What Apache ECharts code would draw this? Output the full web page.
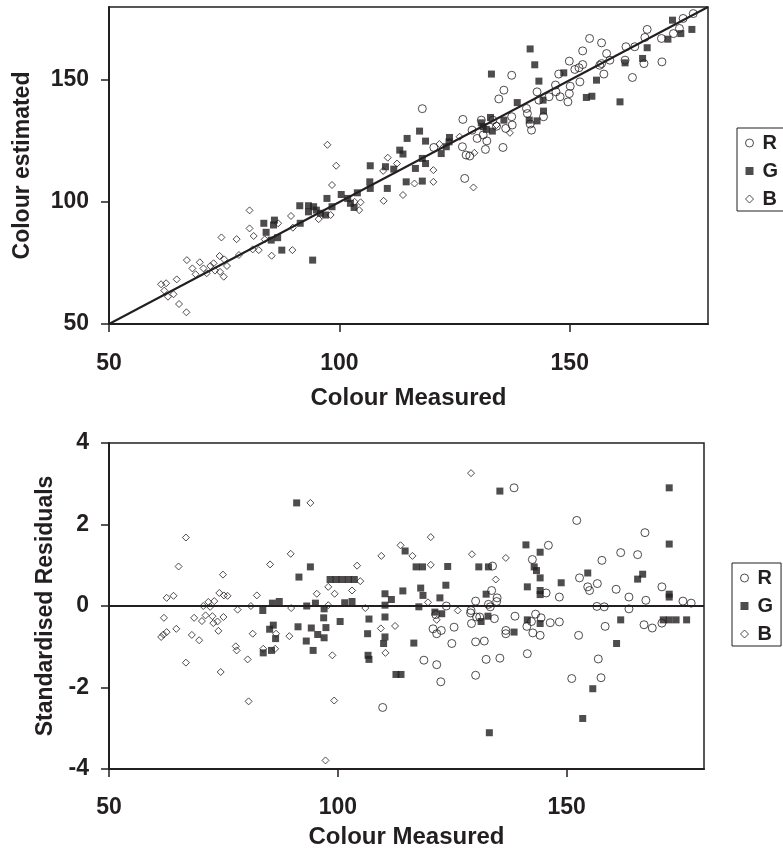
<!DOCTYPE html>
<html>
<head>
<meta charset="utf-8">
<script src="https://cdn.jsdelivr.net/npm/echarts@6/dist/echarts.min.js"></script>
<style>
  html, body { margin: 0; padding: 0; background: #fff; }
  #container { width: 783px; height: 850px; }
</style>
</head>
<body>
<div id="container"></div>
<script>
// top panel: colour estimated vs measured
var topRX = [118.0, 126.8, 127.2, 126.7, 127.5, 128.3, 120.5, 128.8, 129.9, 130.8, 131.2, 131.7, 132.0, 133.3, 134.1, 135.5, 136.1, 137.5, 137.4, 137.4, 134.6, 135.7, 140.6, 140.8, 141.4, 141.7, 142.9, 143.3, 144.3, 145.5, 146.9, 147.0, 147.9, 147.6, 149.9, 149.6, 149.9, 150.1, 151.1, 152.0, 152.8, 152.2, 152.8, 154.3, 156.9, 156.5, 156.9, 158.0, 157.4, 158.7, 162.2, 162.0, 163.6, 164.1, 166.3, 166.8, 166.1, 170.0, 169.9, 172.5, 173.8, 174.6, 176.8];
var topRY = [138.3, 133.9, 109.7, 122.7, 119.3, 118.9, 122.4, 129.5, 126.1, 133.6, 127.5, 121.6, 125.1, 133.6, 131.1, 122.4, 130.2, 131.6, 135.0, 152.0, 142.3, 145.9, 138.4, 136.3, 132.0, 129.5, 145.2, 141.8, 135.0, 143.2, 148.0, 145.2, 143.2, 152.5, 157.8, 141.1, 144.5, 147.5, 154.4, 155.1, 156.4, 149.3, 162.0, 167.1, 165.3, 156.1, 156.8, 160.9, 152.5, 158.2, 163.7, 158.2, 151.1, 163.7, 167.5, 170.8, 156.8, 157.5, 167.1, 169.1, 171.2, 175.3, 177.3];

var topGX = [83.6, 85.9, 85.7, 84.1, 85.2, 86.6, 87.5, 91.4, 91.5, 93.3, 94.4, 93.3, 95.0, 95.9, 97.0, 97.3, 98.4, 94.2, 100.4, 101.8, 102.4, 103.2, 103.9, 106.7, 106.6, 106.7, 110.0, 110.4, 111.8, 113.1, 113.8, 114.7, 114.5, 117.4, 118.7, 116.5, 118.0, 118.0, 118.7, 122.1, 123.2, 123.9, 123.8, 130.8, 131.2, 131.9, 132.8, 133.2, 135.7, 133.0, 138.6, 141.4, 142.4, 143.3, 144.2, 144.3, 141.2, 142.9, 148.7, 153.6, 154.8, 155.8, 160.9, 162.0, 165.8, 166.8, 171.3, 172.3, 174.1, 176.5];
var topGY = [91.3, 92.6, 90.6, 87.6, 84.4, 85.4, 80.3, 98.5, 91.3, 98.5, 98.1, 96.0, 96.7, 95.4, 94.7, 101.5, 98.1, 76.2, 103.1, 101.5, 99.5, 97.8, 103.8, 114.9, 108.3, 105.6, 114.5, 105.6, 113.5, 121.3, 119.7, 126.1, 108.3, 129.1, 125.0, 113.8, 108.6, 117.9, 115.8, 119.9, 122.7, 126.5, 124.7, 132.5, 130.9, 129.8, 134.7, 129.1, 133.6, 152.5, 140.8, 162.8, 156.3, 149.6, 141.8, 137.3, 133.6, 133.3, 153.0, 142.9, 143.4, 150.0, 141.1, 157.1, 158.9, 163.3, 166.8, 174.6, 169.1, 170.8];

var topBX = [61.3, 62.4, 62.0, 64.7, 62.8, 64.0, 65.2, 66.8, 66.9, 68.1, 69.7, 68.8, 70.5, 71.2, 72.0, 72.7, 74.0, 75.0, 73.0, 74.1, 74.9, 75.6, 74.4, 77.7, 78.2, 80.5, 80.5, 81.4, 81.2, 82.5, 83.8, 85.3, 86.7, 89.5, 89.9, 89.8, 95.5, 97.4, 98.4, 99.3, 98.1, 103.3, 104.6, 104.3, 109.6, 109.5, 110.5, 112.5, 113.8, 121.7, 126.1, 120.4, 120.4, 116.3, 129.1, 129.3, 134.1, 137.0];
var topBY = [66.3, 66.7, 63.7, 68.3, 61.2, 62.2, 58.2, 54.8, 76.2, 72.8, 75.3, 70.4, 72.8, 70.8, 73.8, 74.9, 77.9, 76.5, 71.9, 71.4, 69.4, 73.8, 85.5, 84.8, 78.3, 96.6, 89.2, 86.1, 80.6, 80.3, 84.7, 78.0, 91.3, 94.3, 89.5, 80.3, 93.0, 123.5, 107.0, 114.9, 94.7, 100.1, 99.9, 96.7, 100.5, 112.8, 118.2, 115.8, 102.9, 123.8, 126.8, 113.1, 108.3, 107.6, 106.0, 120.2, 131.6, 128.4];

// bottom panel: standardised residuals vs measured
var resRX = [109.8, 138.5, 152.2, 167.1, 146.0, 142.5, 157.7, 161.8, 165.5, 133.8, 152.8, 154.6, 155.0, 156.7, 160.8, 163.6, 167.3, 170.8, 175.4, 177.2, 133.6, 134.8, 134.7, 132.9, 130.1, 133.3, 148.4, 145.5, 156.6, 158.2, 163.6, 123.7, 121.4, 129.0, 130.3, 129.2, 131.0, 134.2, 138.7, 142.3, 143.2, 144.4, 146.4, 148.4, 120.8, 121.6, 122.6, 125.4, 136.7, 136.7, 141.3, 142.6, 144.2, 152.6, 158.4, 166.9, 168.7, 170.8, 124.9, 130.1, 132.0, 118.8, 121.6, 122.5, 130.1, 132.4, 135.4, 141.4, 156.9, 157.5, 151.1, 129.1];
var resRY = [-2.49, 2.90, 2.10, 1.80, 1.49, 1.14, 1.12, 1.31, 1.26, 0.98, 0.69, 0.47, 0.38, 0.55, 0.41, 0.22, 0.14, 0.47, 0.12, 0.07, 0.38, 0.20, 0.11, 0.04, 0.12, -0.02, 0.22, 0.32, -0.01, -0.02, -0.07, 0.0, -0.21, -0.17, -0.27, -0.43, -0.27, -0.31, -0.25, -0.38, -0.20, -0.29, -0.41, -0.39, -0.56, -0.68, -0.60, -0.52, -0.60, -0.68, -0.50, -0.66, -0.72, -0.72, -0.50, -0.46, -0.54, -0.42, -0.92, -0.88, -0.86, -1.33, -1.44, -1.86, -1.70, -1.31, -1.28, -1.17, -1.30, -1.76, -1.78, -0.11];

var resGX = [91.0, 94.0, 91.5, 83.6, 85.7, 87.2, 85.1, 85.9, 86.4, 83.7, 85.5, 91.3, 93.2, 94.2, 93.1, 94.6, 95.1, 95.6, 97.0, 96.9, 97.4, 97.0, 98.3, 99.6, 100.9, 102.3, 103.6, 100.5, 101.5, 103.1, 106.5, 106.8, 106.6, 106.8, 110.3, 110.3, 111.7, 110.3, 110.3, 110.0, 114.2, 112.7, 113.8, 114.7, 135.4, 172.4, 172.4, 141.1, 144.2, 117.1, 118.5, 124.0, 130.8, 132.9, 142.9, 143.4, 144.2, 118.1, 118.6, 122.3, 123.6, 117.7, 132.4, 141.4, 144.2, 144.2, 148.8, 154.6, 165.5, 166.6, 172.4, 172.4, 121.2, 122.7, 131.3, 132.8, 138.5, 141.4, 144.2, 161.8, 171.1, 172.4, 173.9, 176.2, 116.6, 160.9, 155.7, 153.5, 133.1];
var resGY = [2.53, 0.96, 0.71, -0.11, 0.07, 0.11, -0.57, -0.47, -0.80, -1.15, -1.09, -0.51, 0.0, -0.54, -0.86, -1.09, 0.07, -0.70, -0.07, -0.29, -0.53, -0.78, 0.65, 0.65, 0.65, 0.65, 0.65, -0.38, 0.08, 0.11, -0.68, -0.32, -1.21, -1.31, 0.30, 0.02, 0.16, -0.27, -0.76, -0.92, 0.37, -1.68, -1.68, 1.35, 2.82, 2.90, 1.52, 1.50, 1.32, 0.96, 0.96, 0.97, 0.96, 0.96, 0.96, 0.87, 0.69, 0.44, 0.26, 0.20, 0.51, -0.02, 0.29, 0.47, 0.38, 0.28, 0.57, 0.81, 0.66, 0.78, 0.29, 0.22, -0.15, -0.19, -0.38, -0.25, -0.64, -0.34, -0.43, -0.34, -0.34, -0.34, -0.34, -0.34, -0.91, -0.92, -2.03, -2.76, -3.11];

var resBX = [61.4, 61.9, 62.6, 62.0, 62.6, 64.1, 64.7, 65.2, 66.8, 66.8, 68.1, 68.6, 69.7, 70.3, 70.6, 71.1, 71.7, 72.1, 72.6, 73.0, 72.8, 73.7, 73.9, 74.1, 75.0, 74.9, 75.1, 75.9, 74.4, 77.7, 77.9, 78.1, 80.3, 80.5, 81.0, 81.4, 82.3, 83.7, 85.2, 86.5, 86.3, 89.7, 89.4, 89.8, 94.0, 95.4, 97.9, 97.9, 98.8, 99.2, 99.3, 97.3, 103.1, 104.2, 104.9, 106.0, 109.5, 109.4, 110.4, 112.5, 113.7, 129.1, 120.3, 120.3, 116.3, 129.3, 136.7, 134.5, 119.7, 121.6, 126.2];
var resBY = [-0.76, -0.70, -0.64, -0.29, 0.20, 0.25, -0.56, 0.97, 1.68, -1.39, -0.71, -0.29, -0.84, -0.37, 0.0, -0.23, 0.10, -0.02, -0.25, 0.12, -0.42, -0.38, -0.61, 0.32, -0.27, 0.77, 0.26, 0.25, -1.62, -0.99, -1.09, -0.09, -1.31, -2.34, 0.0, -0.68, 0.26, -1.05, 1.02, -0.68, -1.05, 1.28, -0.74, -0.05, 2.53, 0.30, 0.47, 0.02, -1.21, -2.32, 0.30, -3.79, 0.38, 0.99, 0.61, -0.05, 1.23, -0.55, -1.15, -0.49, 1.49, 3.26, 1.69, 1.01, 1.23, 1.27, 1.18, 0.65, 0.09, -0.34, -0.11];

// reference lines: 1:1 line and zero residual line
var diagX = [50, 180];
var diagY = [50, 180];
var zeroX = [50, 180];
var zeroY = [0, 0];

var xTicks = [50, 100, 150];
var topYTicks = [50, 100, 150];

function pairs(xs, ys) {
    var out = [];
    for (var i = 0; i < xs.length; i++) {
        out.push([xs[i], ys[i]]);
    }
    return out;
}

var ink = '#231f20';
var font = 'Liberation Sans, Arial, sans-serif';

var dom = document.getElementById('container');
var myChart = echarts.init(dom, null, { renderer: 'canvas' });

function xAxisOf(gridIndex, gap, margin) {
    return {
        gridIndex: gridIndex,
        type: 'value',
        min: 50,
        max: 180,
        interval: 50,
        name: 'Colour Measured',
        nameLocation: 'middle',
        nameGap: gap,
        nameTextStyle: { color: ink, fontSize: 24, fontWeight: 'bold', fontFamily: font },
        axisLine: { show: true, onZero: false, lineStyle: { color: ink, width: 2 } },
        axisTick: { show: true, inside: false, length: 8, customValues: xTicks, lineStyle: { color: ink, width: 1.5 } },
        axisLabel: { color: ink, fontSize: 23, fontWeight: 'bold', fontFamily: font, margin: margin, customValues: xTicks },
        splitLine: { show: false }
    };
}

var labelStyle = { color: ink, fontSize: 20, fontWeight: 'bold', fontFamily: font, padding: [0, 0, 0, 4] };

function legendOf(left, top) {
    return {
        orient: 'vertical',
        left: left,
        top: top,
        borderColor: ink,
        borderWidth: 1,
        padding: [5, 8, 2, 8],
        itemGap: 8,
        itemWidth: 8,
        itemHeight: 8,
        textStyle: labelStyle,
        data: [
            { name: 'R', icon: 'circle', itemStyle: { color: '#fff', borderColor: ink, borderWidth: 1 } },
            { name: 'G', icon: 'rect', itemStyle: { color: ink, borderWidth: 0 } },
            { name: 'B', icon: 'diamond', itemStyle: { color: '#fff', borderColor: ink, borderWidth: 1 } }
        ]
    };
}

function scatter(name, idx, symbol, size, filled, data) {
    return {
        name: name,
        type: 'scatter',
        xAxisIndex: idx,
        yAxisIndex: idx,
        symbol: symbol,
        symbolSize: size,
        itemStyle: filled ?
            { color: ink, borderWidth: 0 } :
            { color: 'rgba(255,255,255,0)', borderColor: ink, borderWidth: 1 },
        data: data,
        z: 3
    };
}

var option = {
    animation: false,
    backgroundColor: '#fff',
    grid: [
        { left: 109, top: 7, width: 599, height: 317, show: true, borderColor: ink, borderWidth: 1.5, backgroundColor: 'transparent' },
        { left: 109, top: 443, width: 595, height: 326, show: true, borderColor: ink, borderWidth: 1.5, backgroundColor: 'transparent' }
    ],
    legend: [legendOf(737, 128), legendOf(732, 563)],
    xAxis: [xAxisOf(0, 62, 28), xAxisOf(1, 56, 27)],
    yAxis: [
        {
            gridIndex: 0,
            type: 'value',
            min: 50,
            max: 180,
            interval: 50,
            name: 'Colour estimated',
            nameLocation: 'middle',
            nameGap: 75,
            nameTextStyle: { color: ink, fontSize: 23, fontWeight: 'bold', fontFamily: font },
            axisLine: { show: true, onZero: false, lineStyle: { color: ink, width: 2 } },
            axisTick: { show: true, inside: false, length: 8, customValues: topYTicks, lineStyle: { color: ink, width: 1.5 } },
            axisLabel: { color: ink, fontSize: 23, fontWeight: 'bold', fontFamily: font, margin: 20, customValues: topYTicks },
            splitLine: { show: false }
        },
        {
            gridIndex: 1,
            type: 'value',
            min: -4,
            max: 4,
            interval: 2,
            name: 'Standardised Residuals',
            nameLocation: 'middle',
            nameGap: 50,
            nameTextStyle: { color: ink, fontSize: 23, fontWeight: 'bold', fontFamily: font },
            axisLine: { show: true, onZero: false, lineStyle: { color: ink, width: 2 } },
            axisTick: { show: true, inside: false, length: 8, lineStyle: { color: ink, width: 1.5 } },
            axisLabel: { color: ink, fontSize: 23, fontWeight: 'bold', fontFamily: font, margin: 20 },
            splitLine: { show: false }
        }
    ],
    series: [
        {
            name: 'fit',
            type: 'line',
            xAxisIndex: 0,
            yAxisIndex: 0,
            data: pairs(diagX, diagY),
            showSymbol: false,
            lineStyle: { color: ink, width: 2 },
            z: 2
        },
        {
            name: 'zero',
            type: 'line',
            xAxisIndex: 1,
            yAxisIndex: 1,
            data: pairs(zeroX, zeroY),
            showSymbol: false,
            lineStyle: { color: ink, width: 2 },
            z: 2
        },
        scatter('R', 0, 'circle', 8, false, pairs(topRX, topRY)),
        scatter('G', 0, 'rect', 7, true, pairs(topGX, topGY)),
        scatter('B', 0, 'diamond', 7, false, pairs(topBX, topBY)),
        scatter('R', 1, 'circle', 8, false, pairs(resRX, resRY)),
        scatter('G', 1, 'rect', 7, true, pairs(resGX, resGY)),
        scatter('B', 1, 'diamond', 7, false, pairs(resBX, resBY))
    ]
};

myChart.setOption(option);
</script>
</body>
</html>
